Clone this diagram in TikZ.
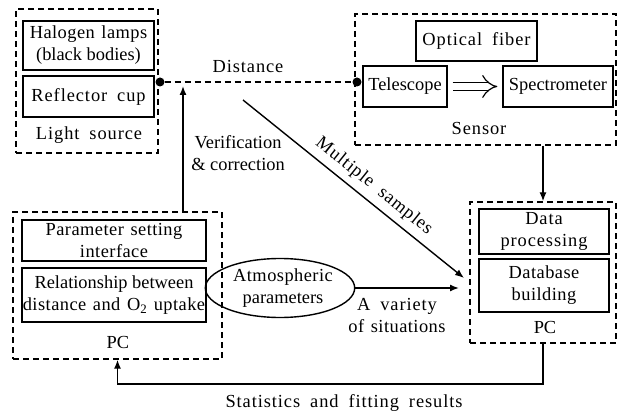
\documentclass[tikz,border=0pt]{standalone}
\usepackage{fontspec}
\setmainfont{Liberation Serif}
\usetikzlibrary{arrows.meta,shapes.geometric}
\newfontfamily\trk{Liberation Serif}[LetterSpace=5,WordSpace=1.8]
\newfontfamily\trm{Liberation Serif}[LetterSpace=2.5,WordSpace=1.3]
\begin{document}
\begin{tikzpicture}[x=1pt,y=-1pt, font=\fontsize{18.4}{22}\selectfont,
 box/.style={draw, line width=1.4pt, align=center, inner sep=0pt},
 grp/.style={draw, line width=1.4pt, dash pattern=on 6pt off 4pt, inner sep=0pt},
 dline/.style={line width=1.4pt, dash pattern=on 6pt off 4pt},
 arr/.style={line width=1.4pt, -{Latex[length=9pt,width=7pt]}},
 dotn/.style={circle, fill, inner sep=0pt, minimum size=9pt},
 wide/.style={font=\fontsize{18.4}{22}\selectfont\trk},
 mid/.style={font=\fontsize{18.4}{22}\selectfont\trm}]
\useasboundingbox (0,0) rectangle (621,414);
% Light source
\node[grp, minimum width=142pt, minimum height=144pt] (ls) at (87,81) {};
\node[box, minimum width=131pt, minimum height=49pt] (hal) at (88.5,45.5) {{\trm Halogen lamps}\\(black bodies)};
\node[box, wide, minimum width=131pt, minimum height=41pt] (ref) at (88.5,96.5) {Reflector cup};
\node[wide] (lsl) at (89,135) {Light source};
% Sensor
\node[grp, minimum width=261pt, minimum height=131pt] (sen) at (485.5,79.5) {};
\node[box, wide, minimum width=121pt, minimum height=40pt] (fib) at (476.5,41) {Optical fiber};
\node[box, minimum width=84pt, minimum height=41pt] (tel) at (405,86.5) {Telescope};
\node[box, minimum width=110pt, minimum height=41pt] (spe) at (558,86.5) {Spectrometer};
\node[wide] (senl) at (479,128) {Sensor};
\draw[line width=1.2pt, double distance=7pt, -{Implies}, shorten <=5pt, shorten >=5pt] (tel) -- (spe);
% PC right
\node[grp, minimum width=146pt, minimum height=141pt] (pcr) at (543,272.5) {};
\node[box, wide, minimum width=130pt, minimum height=45pt] (dat) at (544,231.5) {Data\\processing};
\node[box, mid, minimum width=130pt, minimum height=53pt] (dbb) at (544,285.5) {Database\\building};
\node (pcrl) at (545,327) {PC};
% PC left
\node[grp, minimum width=209pt, minimum height=147pt] (pcl) at (117.5,285.5) {};
\node[box, mid, minimum width=184pt, minimum height=41pt] (par) at (114,240.5) {Parameter setting\\interface};
\node[box, minimum width=184pt, minimum height=54pt] (rel) at (114,295) {Relationship between\\{\trm distance and O\textsubscript{2} uptake}};
\node (pcll) at (118,342) {PC};
% Atmospheric
\node[ellipse, draw, line width=1.4pt, minimum width=114pt, minimum height=59pt, inner sep=0pt, align=center] (atm) at (280,288) {\hspace*{6pt}{\trm Atmospheric}\\\hspace*{6pt}parameters};
% Distance link
\node[dotn] (d1) at (160,82) {};
\node[dotn] (d2) at (357,82) {};
\draw[dline] (d1) -- (d2);
\node[wide] (dist) at (248,67) {Distance};
% Verification
\coordinate (vt) at (183,86);
\draw[arr] (vt |- pcl.north) -- (vt);
\node[align=center] (vc) at (238,153) {Verification\\\& correction};
% Sensor to PC
\draw[arr] (sen.south -| pcr.north) -- (pcr.north);
% Multiple samples
\coordinate (ms1) at (243,100);
\coordinate (ms2) at (464,278);
\draw[arr] (ms1) -- node[wide, pos=0.55, sloped, above=6pt, inner sep=0pt] (mst) {Multiple samples} (ms2);
% Atmospheric arrow
\coordinate (va) at (459,288);
\draw[arr] (atm) -- (va);
\node[wide, align=center] (vat) at (397,315) {A variety\\{\trm of situations}};
% Bottom feedback
\coordinate (bl) at (0,384);
\draw[arr] (pcr.south) -- (pcr.south |- bl) -| (pcl.south);
\node[wide] (stat) at (344,403) {Statistics and fitting results};
\end{tikzpicture}
\end{document}
